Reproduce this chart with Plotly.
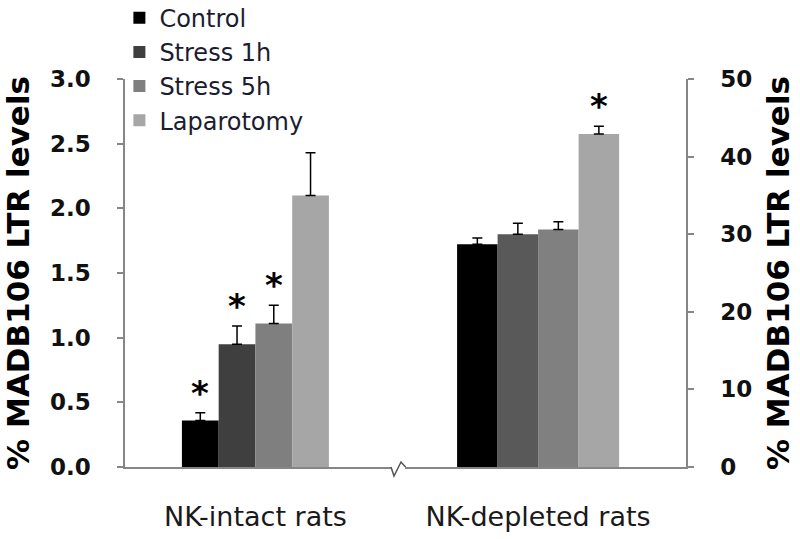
import plotly.graph_objects as go

# ---- data ----
categories = ["NK-intact rats", "NK-depleted rats"]
series = ["Control", "Stress 1h", "Stress 5h", "Laparotomy"]
intact_vals = [0.36, 0.95, 1.11, 2.10]
intact_err = [0.06, 0.14, 0.14, 0.33]
depleted_vals = [28.7, 30.0, 30.6, 42.9]
depleted_err = [0.8, 1.4, 1.0, 1.0]
intact_sig = [True, True, True, False]
depleted_sig = [False, False, False, True]
left_ticks = [0.0, 0.5, 1.0, 1.5, 2.0, 2.5, 3.0]
right_ticks = [0, 10, 20, 30, 40, 50]

# ---- styles ----
intact_colors = ["#000000", "#3f3f3f", "#7f7f7f", "#a6a6a6"]
depleted_colors = ["#000000", "#595959", "#808080", "#a6a6a6"]
FONT = "DejaVu Sans"
AXIS_GREY = "#868686"
BARGAP = 0.45
n = len(series)
bar_w = (1 - BARGAP) / n

fig = go.Figure()
for i, s in enumerate(series):
    fig.add_trace(go.Bar(
        x=[categories[0]], y=[intact_vals[i]], name=s,
        marker=dict(color=intact_colors[i], line=dict(width=0)),
        error_y=dict(type="data", symmetric=False, array=[intact_err[i]],
                     arrayminus=[0], color="#000000", thickness=1.5, width=5),
        xaxis="x", yaxis="y", legendgroup=s, showlegend=True,
    ))
for i, s in enumerate(series):
    fig.add_trace(go.Bar(
        x=[categories[1]], y=[depleted_vals[i]], name=s,
        marker=dict(color=depleted_colors[i], line=dict(width=0)),
        error_y=dict(type="data", symmetric=False, array=[depleted_err[i]],
                     arrayminus=[0], color="#000000", thickness=1.5, width=5),
        xaxis="x2", yaxis="y2", legendgroup=s, showlegend=False,
    ))

# significance asterisks
STAR = dict(family=FONT, size=34, color="#000", weight="bold")
annotations = []
for i in range(n):
    off = (i - (n - 1) / 2) * bar_w
    if intact_sig[i]:
        annotations.append(dict(x=0 + off, y=intact_vals[i] + intact_err[i],
                                xref="x", yref="y", text="*", showarrow=False,
                                yanchor="bottom", yshift=-2, font=STAR))
    if depleted_sig[i]:
        annotations.append(dict(x=0 + off, y=depleted_vals[i] + depleted_err[i],
                                xref="x2", yref="y2", text="*", showarrow=False,
                                yanchor="bottom", yshift=-2, font=STAR))

# axis break squiggle (pixel positions converted to paper coords)
L, T, W, H = 125, 79, 561, 388
def px(xp, yp):
    return (xp - L) / W, (T + H - yp) / H
pts = [(391, 467), (394, 476), (401, 462), (405.5, 467)]
path = "M " + " L ".join(f"{px(a, b)[0]},{px(a, b)[1]}" for a, b in pts)

fig.update_layout(
    width=800, height=539,
    margin=dict(l=L, r=800 - L - W, t=T, b=539 - T - H, autoexpand=False),
    paper_bgcolor="white", plot_bgcolor="white",
    barmode="group", bargap=BARGAP, bargroupgap=0,
    font=dict(family=FONT, color="#1a1a1a"),
    showlegend=True,
    legend=dict(x=-0.01, y=1.215, xanchor="left", yanchor="top",
                font=dict(family=FONT, size=24, color="#1c1c30"),
                tracegroupgap=0, bgcolor="rgba(0,0,0,0)"),
    xaxis=dict(domain=[0, 0.474], range=[-0.488, 0.507], type="category",
               showline=True, linecolor=AXIS_GREY, linewidth=1.5,
               ticks="", ticklabelstandoff=25, showgrid=False, zeroline=False,
               tickfont=dict(family=FONT, size=27, color="#1a1a1a")),
    xaxis2=dict(domain=[0.499, 1], range=[-0.452, 0.502], type="category",
                anchor="y2", showline=True, linecolor=AXIS_GREY, linewidth=1.5,
                ticks="", ticklabelstandoff=25, showgrid=False, zeroline=False,
                tickfont=dict(family=FONT, size=27, color="#1a1a1a")),
    yaxis=dict(range=[0, 3.0], tickvals=left_ticks,
               ticktext=[f"{v:.1f}" for v in left_ticks],
               showline=True, linecolor=AXIS_GREY, linewidth=1.5,
               ticks="outside", ticklen=6, tickcolor=AXIS_GREY, tickwidth=1.5,
               ticklabelstandoff=22,
               showgrid=False, zeroline=False,
               tickfont=dict(family=FONT, size=23, color="#111111", weight="bold"),
               title=dict(text="% MADB106 LTR levels", standoff=19,
                          font=dict(family=FONT, size=31, color="#000000", weight="bold"))),
    yaxis2=dict(range=[0, 50], tickvals=right_ticks, anchor="x2", side="right",
                showline=True, linecolor=AXIS_GREY, linewidth=1.5,
                ticks="outside", ticklen=6, tickcolor=AXIS_GREY, tickwidth=1.5,
                ticklabelstandoff=22,
                showgrid=False, zeroline=False,
                tickfont=dict(family=FONT, size=23, color="#111111", weight="bold"),
                title=dict(text="% MADB106 LTR levels", standoff=16,
                           font=dict(family=FONT, size=31, color="#000000", weight="bold"))),
    annotations=annotations,
    shapes=[dict(type="path", path=path, xref="paper", yref="paper",
                 line=dict(color="#555555", width=1.5))],
)

fig.write_html("out.html", config={"displayModeBar": False},
               post_script="document.body.style.margin='0';")
